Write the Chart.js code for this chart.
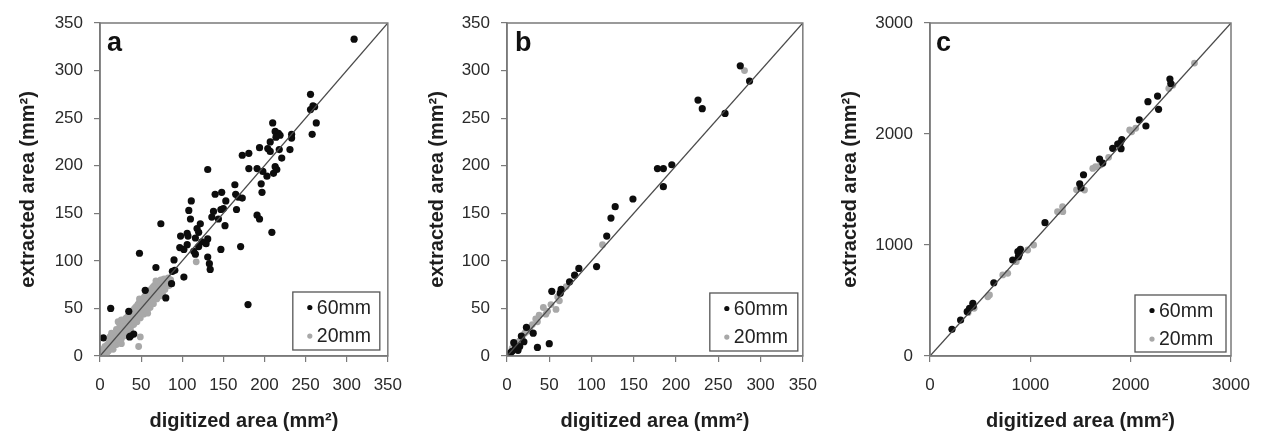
<!DOCTYPE html>
<html>
<head>
<meta charset="utf-8">
<title>Extracted vs digitized area</title>
<script src="https://cdn.jsdelivr.net/npm/chart.js@4.4.1/dist/chart.umd.min.js"></script>
<style>
  html, body { margin: 0; padding: 0; background: #ffffff; }
  #wrap { position: relative; width: 1271px; height: 435px; overflow: hidden; background: #fff; }
  canvas { position: absolute; top: 0; }
</style>
</head>
<body>
<div id="wrap">
  <canvas id="panelA" width="415" height="435" style="left:0px"></canvas>
  <canvas id="panelB" width="415" height="435" style="left:415px"></canvas>
  <canvas id="panelC" width="441" height="435" style="left:830px"></canvas>
</div>
<script>
// ---- tick labels ----
const ticksAB = [0, 50, 100, 150, 200, 250, 300, 350];
const ticksC = [0, 1000, 2000, 3000];

// ---- 1:1 reference line ends ----
const lineAB = [0, 350];
const lineC = [0, 3000];

// ---- series labels ----
const seriesNames = ['60mm', '20mm'];

// ---- panel a: [digitized, extracted] in mm² ----
const a60 = [
  [309,333],[256,275],[259,263],[261,262],[256,259],[263,245],[258,233],[210,245],[213,236],[217,234],
  [219,232],[214,230],[233,233],[233,229],[207,225],[194,219],[204,218],[207,215],[218,217],[231,217],
  [221,208],[173,211],[181,213],[181,197],[191,197],[198,194],[203,189],[211,192],[215,196],[213,199],
  [196,181],[197,172],[131,196],[164,180],[165,170],[168,167],[173,166],[140,170],[148,172],[153,163],
  [150,155],[147,154],[166,154],[111,163],[108,153],[110,144],[138,152],[136,146],[144,144],[152,137],
  [191,148],[194,144],[209,130],[74,139],[98,126],[106,129],[107,126],[118,134],[122,139],[120,130],
  [116,124],[124,120],[131,123],[129,118],[120,115],[106,117],[97,114],[102,112],[114,110],[147,112],
  [171,115],[131,104],[133,97],[134,91],[116,107],[90,101],[68,93],[88,89],[91,90],[102,83],
  [87,76],[80,61],[180,54],[55,69],[48,108],[13,50],[35,47],[4,19],[37,21],[41,23],[36,20]
];
const a20 = [
  [1,2],[2,0],[3,5],[4,2],[5,8],[6,3],[6,10],[7,6],[8,3],[9,12],[9,7],[10,5],[11,14],[11,9],
  [12,7],[13,16],[13,11],[14,9],[15,18],[15,13],[16,11],[17,20],[17,15],[18,12],[19,22],[19,17],
  [20,12],[21,24],[21,19],[22,36],[22,15],[23,27],[24,21],[24,29],[25,24],[26,13],[26,32],[27,25],
  [28,30],[28,22],[29,34],[30,27],[30,38],[31,31],[32,25],[32,40],[33,35],[34,28],[34,42],[35,37],
  [36,30],[36,44],[37,39],[38,32],[38,46],[39,41],[40,34],[40,48],[41,43],[42,36],[42,50],[43,45],
  [44,38],[44,52],[45,47],[46,40],[46,54],[47,10],[47,49],[48,42],[48,56],[49,20],[49,51],[50,44],
  [50,58],[51,53],[52,46],[52,60],[53,55],[54,48],[54,62],[55,57],[56,50],[56,64],[57,59],[58,52],
  [58,66],[59,61],[60,54],[60,68],[61,63],[62,57],[62,70],[63,65],[64,59],[64,72],[65,67],[66,61],
  [66,74],[67,69],[68,63],[68,76],[69,71],[70,66],[71,78],[72,73],[73,68],[74,80],[75,75],[77,71],
  [78,81],[80,77],[83,82],[86,80],[117,99],[26,18],[35,30],[45,41],[55,51],[65,61],[18,16],[40,40],
  [20,28],[23,17],[27,35],[29,21],[31,39],[33,26],[35,43],[37,28],[39,47],[41,33],[43,50],[45,36],
  [47,55],[49,40],[51,58],[53,44],[55,63],[57,47],[59,67],[61,51],[63,70],[65,55],[67,72],[69,60],
  [71,74],[73,63],[76,78],[79,70],[82,78],[84,74],[30,31],[50,50],[60,60],[70,70],[25,26],[15,15],
  [10,10],[5,5],[14,24],[16,7],[26,38],[38,24],[48,60],[58,45],[68,79],[76,66],[12,20],[24,33]
];

// ---- panel b ----
const b60 = [
  [276,305],[287,289],[226,269],[231,260],[258,255],[178,197],[185,197],[195,201],[185,178],[149,165],
  [128,157],[123,145],[118,126],[106,94],[85,92],[80,85],[74,78],[64,70],[63,66],[53,68],
  [50,13],[36,9],[23,30],[31,24],[8,14],[17,21],[15,10],[13,6],[4,3],[10,8],[6,5],[20,15],[2,1]
];
const b20 = [
  [281,300],[113,117],[43,51],[58,49],[52,54],[60,62],[38,43],[34,39],[30,33],[27,29],[24,26],
  [21,24],[18,19],[15,16],[12,14],[10,11],[8,7],[6,8],[4,4],[2,3],[46,44],[62,58],[36,36],[70,73],[48,47]
];

// ---- panel c ----
const c60 = [
  [2391,2495],[2400,2455],[2172,2291],[2268,2342],[2278,2222],[2086,2128],[2152,2072],[1912,1950],
  [1894,1916],[1904,1868],[1821,1871],[1871,1910],[1690,1775],[1722,1738],[1530,1633],[1492,1552],
  [1505,1515],[1146,1201],[901,961],[876,940],[891,919],[881,895],[824,865],[636,660],[427,475],
  [431,450],[394,430],[371,399],[305,324],[219,240]
];
const c20 = [
  [2636,2639],[2420,2440],[2380,2410],[1990,2036],[2050,2052],[2010,2020],[1622,1690],[1650,1705],
  [1540,1495],[1460,1497],[1324,1300],[1271,1300],[1321,1345],[1033,1000],[974,955],[775,745],
  [725,730],[593,550],[576,534],[440,430],[380,390],[1700,1720],[1780,1790],[860,850]
];

const FONT = "'Liberation Sans', Arial, Helvetica, sans-serif";
const toPts = arr => arr.map(([x, y]) => ({ x, y }));

// frame, panel letter and boxed legend drawn over the plot area
const decorPlugin = {
  id: 'decor',
  afterDatasetsDraw(chart, args, opts) {
    const { ctx, chartArea: ca } = chart;
    ctx.save();
    // plot frame
    ctx.strokeStyle = '#7a7a7a';
    ctx.lineWidth = 1.5;
    ctx.strokeRect(ca.left, ca.top, ca.right - ca.left, ca.bottom - ca.top);
    // panel letter
    ctx.fillStyle = '#111';
    ctx.font = `bold 27px ${FONT}`;
    ctx.textAlign = 'left';
    ctx.textBaseline = 'alphabetic';
    ctx.fillText(opts.letter, ca.left + opts.letterDx, ca.top + 28);
    // legend
    const bx = ca.right - opts.legRight - opts.legW;
    const by = ca.bottom - opts.legBottom - opts.legH;
    ctx.fillStyle = '#fff';
    ctx.fillRect(bx, by, opts.legW, opts.legH);
    ctx.strokeStyle = '#555';
    ctx.lineWidth = 1.3;
    ctx.strokeRect(bx, by, opts.legW, opts.legH);
    ctx.font = `19.5px ${FONT}`;
    ctx.textBaseline = 'middle';
    const items = chart.data.datasets.filter(d => d.showInLegend);
    items.forEach((d, i) => {
      const cy = by + 15.5 + i * 28.6;
      ctx.beginPath();
      ctx.fillStyle = d.backgroundColor;
      ctx.arc(bx + 17, cy, 2.6, 0, Math.PI * 2);
      ctx.fill();
      ctx.fillStyle = '#222';
      ctx.fillText(d.label, bx + 24, cy + 1);
    });
    ctx.restore();
  }
};

function makePanel(id, black, gray, tickVals, lineEnds, cfg) {
  const axisMax = tickVals[tickVals.length - 1];
  const common = (title) => ({
    type: 'linear',
    min: tickVals[0],
    max: axisMax,
    afterBuildTicks: s => { s.ticks = tickVals.map(v => ({ value: v })); },
    ticks: {
      autoSkip: false, maxRotation: 0, color: '#2a2a2a', font: { family: FONT, size: 17 },
      callback: v => String(v)
    },
    grid: { drawOnChartArea: false, drawTicks: true, tickLength: 6, color: '#7a7a7a', lineWidth: 1.2 },
    border: { display: true, color: '#7a7a7a', width: 1.5 },
    title: { display: true, text: title, color: '#1e1e1e', font: { family: FONT, size: 20, weight: 'bold' } }
  });
  const xs = common('digitized area (mm²)');
  xs.ticks.padding = 13;
  xs.title.padding = { top: 0, bottom: 2 };
  xs.afterFit = s => { s.height = 79; };
  const ys = common('extracted area (mm²)');
  ys.ticks.padding = 11;
  ys.title.padding = { top: cfg.yTitlePad, bottom: 0 };
  ys.afterFit = s => { s.width = cfg.yWidth; };

  return new Chart(document.getElementById(id), {
    type: 'scatter',
    data: {
      datasets: [
        {
          type: 'line', label: '1:1', showInLegend: false,
          data: lineEnds.map(v => ({ x: v, y: v })),
          borderColor: '#4a4a4a', borderWidth: 1.3, pointRadius: 0, order: 0
        },
        {
          label: seriesNames[0], showInLegend: true, data: toPts(black),
          backgroundColor: '#0d0d0d', borderWidth: 0, pointRadius: 3.6, order: 1
        },
        {
          label: seriesNames[1], showInLegend: true, data: toPts(gray),
          backgroundColor: '#a8a8a8', borderWidth: 0, pointRadius: 3.4, order: 2
        }
      ]
    },
    options: {
      responsive: false,
      animation: false,
      devicePixelRatio: 1,
      layout: { padding: { top: 23, right: cfg.rightPad, left: 0, bottom: 0 } },
      scales: { x: xs, y: ys },
      plugins: {
        legend: { display: false },
        tooltip: { enabled: false },
        decor: cfg.decor
      }
    },
    plugins: [decorPlugin]
  });
}

makePanel('panelA', a60, a20, ticksAB, lineAB, {
  yWidth: 100, rightPad: 19, yTitlePad: 16,
  decor: { letter: 'a', letterDx: 7, legRight: 8, legBottom: 6, legW: 87, legH: 58 }
});
makePanel('panelB', b60, b20, ticksAB, lineAB, {
  yWidth: 92, rightPad: 24, yTitlePad: 10,
  decor: { letter: 'b', letterDx: 8, legRight: 5, legBottom: 5, legW: 88, legH: 58 }
});
makePanel('panelC', c60, c20, ticksC, lineC, {
  yWidth: 100, rightPad: 40, yTitlePad: 8,
  decor: { letter: 'c', letterDx: 6, legRight: 5, legBottom: 4, legW: 91, legH: 57 }
});
</script>
</body>
</html>
